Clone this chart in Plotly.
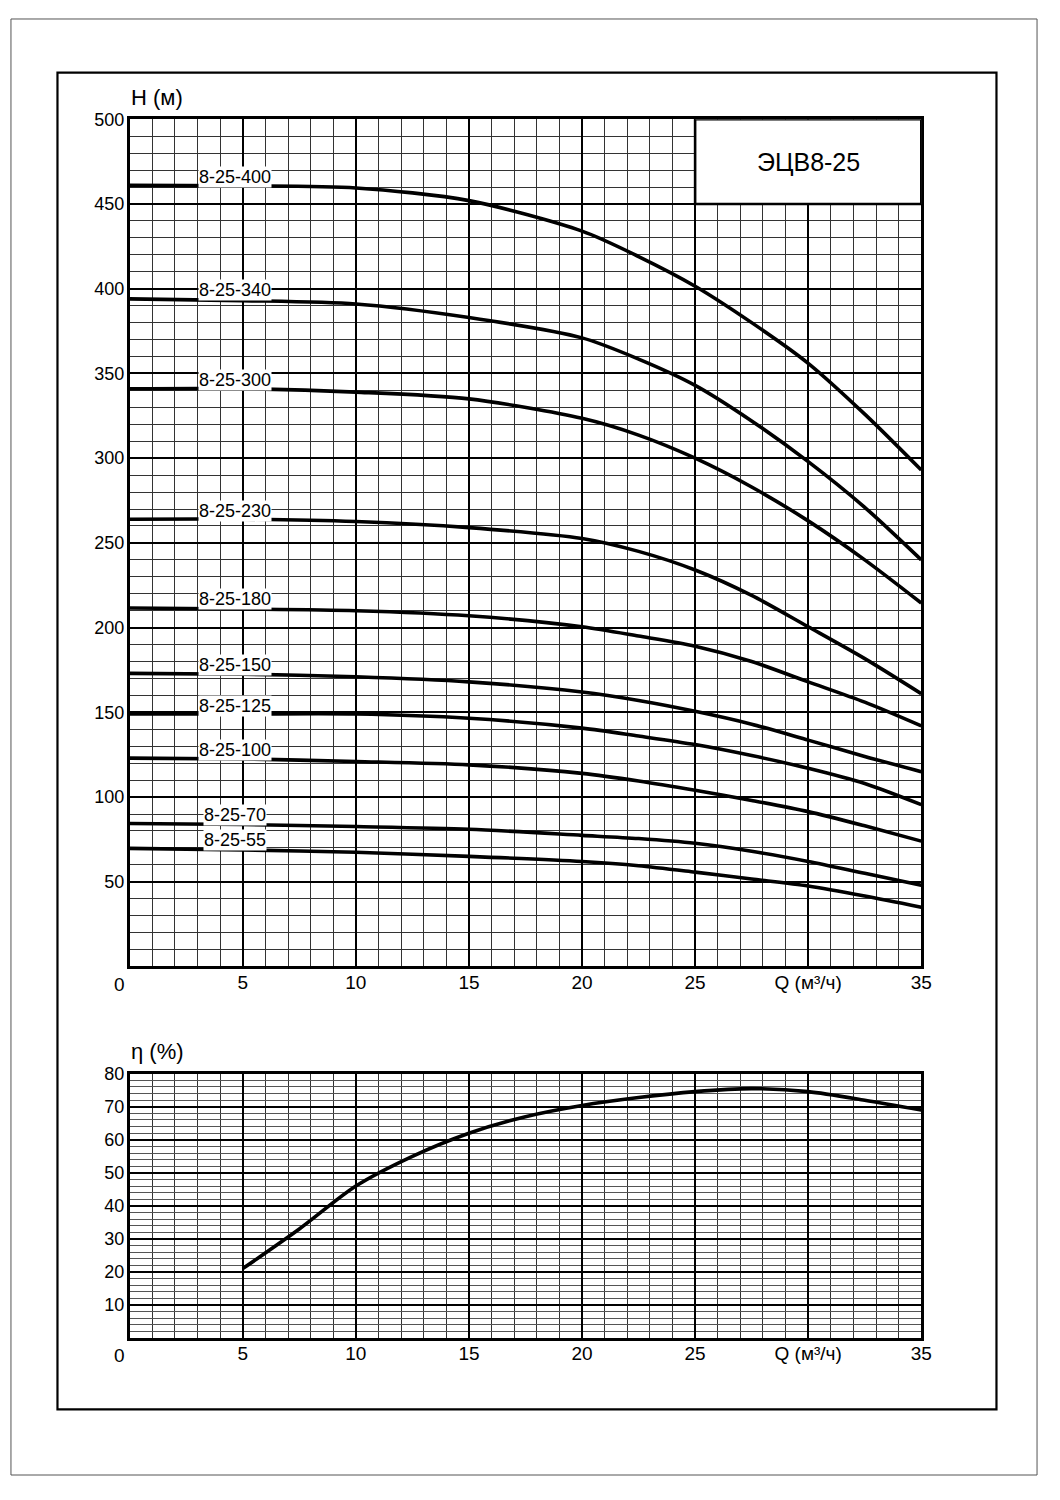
import plotly.graph_objects as go

# ---------------- data ----------------
Q = [0, 5, 10, 15, 20, 22.5, 25, 27.5, 30, 32.5, 35]
models = ["8-25-400", "8-25-340", "8-25-300", "8-25-230", "8-25-180",
          "8-25-150", "8-25-125", "8-25-100", "8-25-70", "8-25-55"]
H_400 = [461, 460.7, 459.5, 452, 434, 419, 401.5, 380, 356, 326, 293]
H_340 = [394, 393, 391, 383, 371, 358.5, 343, 322, 298, 271, 240]
H_300 = [341, 341, 339, 335, 323.5, 313.6, 300, 283, 263, 240, 214.5]
H_230 = [264, 264, 262.6, 259, 252.6, 245, 234, 219, 200.5, 181.7, 161]
H_180 = [211.6, 211, 210, 207, 200.5, 195, 189, 180, 168, 156, 142]
H_150 = [173, 172.5, 171, 168, 162, 157, 150.6, 143, 133.6, 124, 115]
H_125 = [149, 149, 149, 146.5, 140.7, 136, 131, 124.5, 117, 108, 95.5]
H_100 = [123, 122.5, 121, 119, 114, 109.5, 104, 98, 91.4, 83, 74]
H_70 = [84.4, 83.8, 82.6, 81, 77.4, 75.5, 72.7, 68, 62, 55, 48]
H_55 = [69.7, 68.8, 67.4, 65, 62, 59.5, 55.7, 51.6, 47.5, 41.6, 35]
H_all = [H_400, H_340, H_300, H_230, H_180, H_150, H_125, H_100, H_70, H_55]

Q_eff = [5, 7.5, 10, 12.5, 15, 17.5, 20, 22.5, 25, 27.5, 30, 32.5, 35]
eta = [21, 33, 46, 55, 62, 67, 70.4, 72.8, 74.6, 75.5, 74.6, 72, 69]

x_ticks = [5, 10, 15, 20, 25, 30, 35]
x_tick_text = ["5", "10", "15", "20", "25", "Q (м³/ч)", "35"]
h_ticks = [50, 100, 150, 200, 250, 300, 350, 400, 450, 500]
eta_ticks = [10, 20, 30, 40, 50, 60, 70, 80]
title_text = "ЭЦВ8-25"

# ---------------- figure ----------------
OFFX, OFFY = 8, 17           # where the page places the figure
W, HGT = 1044, 1468
FONT = "Liberation Sans, Arial, sans-serif"


def px_x(p):
    return (p - OFFX) / W


def px_y(p):
    return 1 - (p - OFFY) / HGT


fig = go.Figure()

for name, H in zip(models, H_all):
    fig.add_trace(go.Scatter(x=Q, y=H, mode="lines", name=name,
                             line=dict(color="black", width=3.6, shape="spline", smoothing=0.8),
                             xaxis="x", yaxis="y", showlegend=False))

fig.add_trace(go.Scatter(x=Q_eff, y=eta, mode="lines", name="η",
                         line=dict(color="black", width=3.6, shape="spline", smoothing=0.8),
                         xaxis="x2", yaxis="y2", showlegend=False))

axis_common = dict(showline=True, mirror=True, linecolor="black", linewidth=2.6,
                   gridcolor="black", gridwidth=2.4, zeroline=False, ticks="")
xfont = dict(family=FONT, size=19, color="black")
yfont = dict(family=FONT, size=18, color="black")

fig.update_layout(
    width=W, height=HGT,
    margin=dict(l=0, r=0, t=0, b=0),
    paper_bgcolor="white", plot_bgcolor="white",
    font=dict(family=FONT, color="black"),
    xaxis=dict(domain=[px_x(131), px_x(931)], range=[0, 35], anchor="y",
               tickvals=x_ticks, ticktext=x_tick_text, tickfont=xfont,
               minor=dict(dtick=1, showgrid=True, gridcolor="#333", gridwidth=1),
               ticklabelstandoff=-3, **axis_common),
    yaxis=dict(domain=[px_y(972), px_y(119)], range=[0, 500], anchor="x",
               tickvals=h_ticks, tickfont=yfont,
               minor=dict(dtick=10, showgrid=True, gridcolor="#333", gridwidth=1),
               ticklabelstandoff=-1, **axis_common),
    xaxis2=dict(domain=[px_x(131), px_x(931)], range=[0, 35], anchor="y2",
                tickvals=x_ticks, ticktext=x_tick_text, tickfont=xfont,
                minor=dict(dtick=1, showgrid=True, gridcolor="#333", gridwidth=1),
                ticklabelstandoff=-4, **axis_common),
    yaxis2=dict(domain=[px_y(1346), px_y(1080)], range=[0, 80], anchor="x2",
                tickvals=eta_ticks, tickfont=yfont,
                minor=dict(dtick=2, showgrid=True, gridcolor="#555", gridwidth=1),
                ticklabelstandoff=-1, **axis_common),
)

shapes = []
# title box covering the grid
shapes.append(dict(type="rect", xref="x", yref="y", x0=25, x1=35, y0=450, y1=500,
                   fillcolor="white", line=dict(color="black", width=2.6), layer="above"))
# inner frame
shapes.append(dict(type="rect", xref="paper", yref="paper",
                   x0=px_x(58), x1=px_x(1007), y0=px_y(1418), y1=px_y(72),
                   line=dict(color="black", width=2.2), fillcolor="rgba(0,0,0,0)"))
# page border
shapes.append(dict(type="rect", xref="paper", yref="paper",
                   x0=px_x(11), x1=px_x(1048), y0=px_y(1484), y1=px_y(18),
                   line=dict(color="#555", width=1), fillcolor="rgba(0,0,0,0)"))
fig.update_layout(shapes=shapes)

annotations = []
annotations.append(dict(x=30, y=475, xref="x", yref="y", text=title_text, showarrow=False,
                        font=dict(family=FONT, size=25, color="black")))
for name, H in zip(models, H_all):
    annotations.append(dict(x=4.64, y=H[0] + 5, xref="x", yref="y", text=name, showarrow=False,
                            font=dict(family=FONT, size=18, color="black"),
                            bgcolor="white", borderpad=0, yanchor="middle"))
annotations.append(dict(x=px_x(130), y=px_y(97), xref="paper", yref="paper", text="H (м)",
                        showarrow=False, xanchor="left", yanchor="middle",
                        font=dict(family=FONT, size=22, color="black")))
annotations.append(dict(x=px_x(130), y=px_y(1058), xref="paper", yref="paper", text="η (%)",
                        showarrow=False, xanchor="left", yanchor="middle",
                        font=dict(family=FONT, size=22, color="black")))
annotations.append(dict(x=px_x(121), y=px_y(990), xref="paper", yref="paper", text="0",
                        showarrow=False, xanchor="center", yanchor="middle",
                        font=xfont))
annotations.append(dict(x=px_x(121), y=px_y(1364), xref="paper", yref="paper", text="0",
                        showarrow=False, xanchor="center", yanchor="middle",
                        font=xfont))
fig.update_layout(annotations=annotations)

fig.write_html("out.html")
